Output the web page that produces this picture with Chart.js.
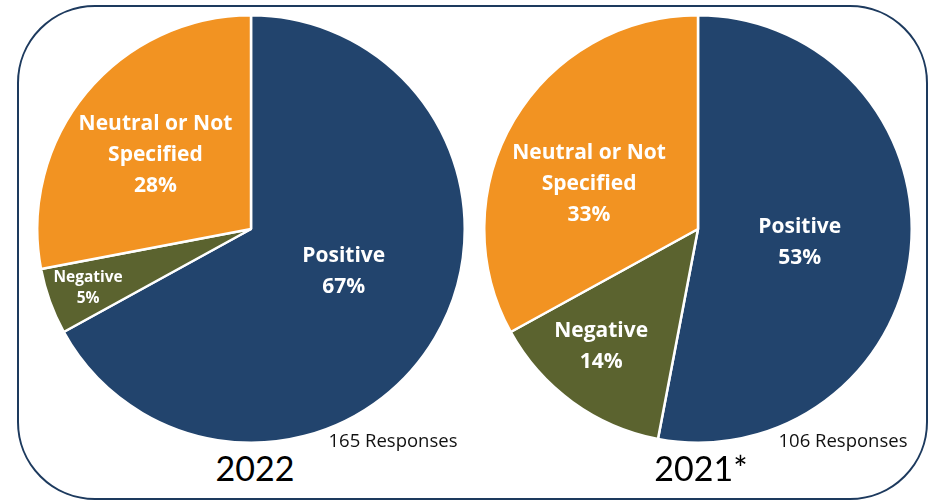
<!DOCTYPE html>
<html>
<head>
<meta charset="utf-8">
<script src="https://cdn.jsdelivr.net/npm/chart.js@4/dist/chart.umd.min.js"></script>
<style>
    html, body { margin: 0; padding: 0; background: #fff; }
    body { width: 938px; height: 501px; position: relative; overflow: hidden; font-family: Lato, sans-serif; }
    .frame {
        position: absolute; left: 17px; top: 5px; width: 907px; height: 491px;
        border: 2.5px solid #1d3a5e; border-radius: 78px;
    }
    .pie { position: absolute; width: 430px; height: 430px; top: 14px; }
    .year { position: absolute; font-size: 34px; color: #000; top: 447px; transform: translateX(-50%); }
    .resp { position: absolute; font-family: "Open Sans", sans-serif; font-size: 18.5px; color: #111; top: 427px; transform: translateX(-50%); white-space: nowrap; }
</style>
</head>
<body>
<div class="frame"></div>
<div class="pie" style="left:36px"><canvas id="pie2022"></canvas></div>
<div class="pie" style="left:483px"><canvas id="pie2021"></canvas></div>
<div class="resp" id="resp2022" style="left:393px"></div>
<div class="resp" id="resp2021" style="left:843px"></div>
<div class="year" id="year2022" style="left:255px"></div>
<div class="year" id="year2021" style="left:701px"></div>

<script>
// Data
const categories = ['Positive', 'Negative', 'Neutral or Not Specified'];
const labelLines = [['Positive'], ['Negative'], ['Neutral or Not', 'Specified']];
const colors = ['#22446d', '#5b632f', '#f29322'];

const years = ['2022', '2021*'];
const responses = [165, 106];
const values2022 = [67, 5, 28];
const values2021 = [53, 14, 33];

// label placement: fraction of radius, and a small turn (degrees) off the slice middle
const labelRadius2022 = [0.478, 0.81, 0.565];
const labelTurn2022 = [-5.8, 0, -1.9];
const labelRadius2021 = [0.48, 0.714, 0.552];
const labelTurn2021 = [1.9, 3.4, -8];

// Draws the white labels inside each slice
const sliceLabels = {
    id: 'sliceLabels',
    afterDatasetsDraw(chart, args, opts) {
        const ctx = chart.ctx;
        const meta = chart.getDatasetMeta(0);
        const data = chart.data.datasets[0].data;
        ctx.save();
        ctx.fillStyle = '#fff';
        ctx.textAlign = 'center';
        ctx.textBaseline = 'middle';
        meta.data.forEach(function(arc, i) {
            const mid = (arc.startAngle + arc.endAngle) / 2 + opts.turn[i] * Math.PI / 180;
            const r = arc.outerRadius * opts.radius[i];
            const x = arc.x + Math.cos(mid) * r;
            const y = arc.y + Math.sin(mid) * r;
            const small = data[i] < 10;
            const size = small ? 15.5 : 21;
            const lh = small ? 21 : 31;
            const lines = labelLines[i].concat([data[i] + '%']);
            ctx.font = 'bold ' + size + 'px "Open Sans", sans-serif';
            const top = y - (lines.length - 1) * lh / 2;
            lines.forEach(function(t, k) {
                ctx.fillText(t, x, top + k * lh);
            });
        });
        ctx.restore();
    }
};

function makePie(id, values, radius, turn) {
    new Chart(document.getElementById(id), {
        type: 'pie',
        data: {
            labels: categories,
            datasets: [{
                data: values,
                backgroundColor: colors,
                borderColor: '#fff',
                borderWidth: 2.5
            }]
        },
        options: {
            responsive: true,
            maintainAspectRatio: false,
            animation: false,
            layout: { padding: 0 },
            plugins: {
                legend: { display: false },
                tooltip: { enabled: false },
                sliceLabels: { radius: radius, turn: turn }
            }
        },
        plugins: [sliceLabels]
    });
}

makePie('pie2022', values2022, labelRadius2022, labelTurn2022);
makePie('pie2021', values2021, labelRadius2021, labelTurn2021);

document.getElementById('year2022').textContent = years[0];
document.getElementById('year2021').textContent = years[1];
document.getElementById('resp2022').textContent = responses[0] + ' Responses';
document.getElementById('resp2021').textContent = responses[1] + ' Responses';
</script>
</body>
</html>
